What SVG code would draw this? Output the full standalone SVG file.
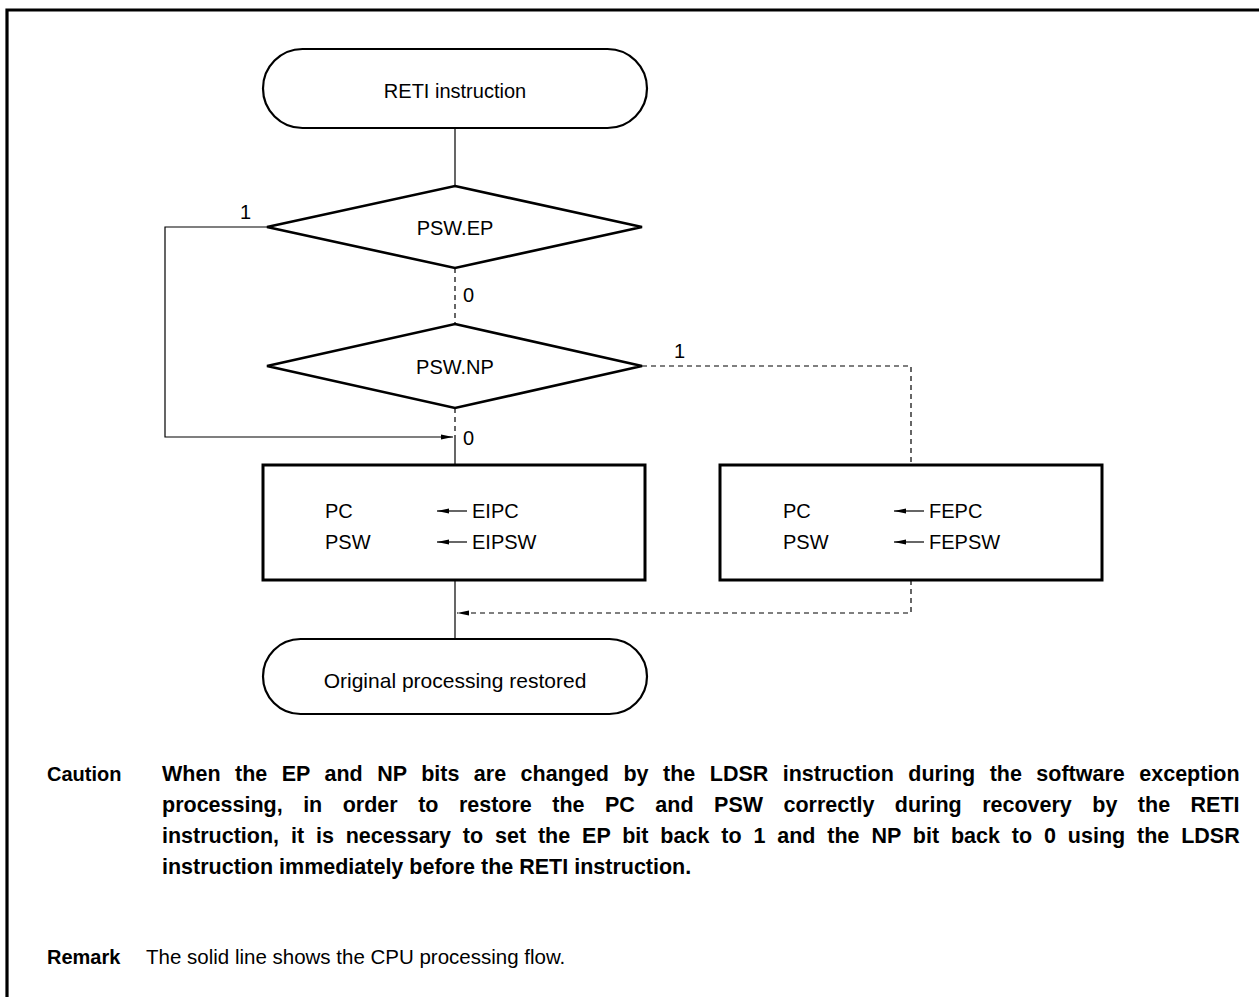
<svg xmlns="http://www.w3.org/2000/svg" width="1259" height="997" viewBox="0 0 1259 997">
<style>
text{font-family:"Liberation Sans",Arial,sans-serif;font-size:20px;fill:#000}
.b{font-weight:bold}
.c{font-weight:bold;font-size:21.5px}
.shape{fill:#fff;stroke:#000}
.term{stroke-width:2.2}
.dia{stroke-width:2.6}
.box{stroke-width:3}
.ln{fill:none;stroke:#000;stroke-width:1.2}
.dash{fill:none;stroke:#000;stroke-width:1.2;stroke-dasharray:5,4}
</style>
<defs>
<marker id="ah" viewBox="0 0 12 6" refX="12" refY="3" markerWidth="12" markerHeight="6" markerUnits="userSpaceOnUse" orient="auto">
<path d="M0,0.6 L12,3 L0,5.4 Z" fill="#000"/>
</marker>
</defs>
<path d="M7,997 V10 H1259" fill="none" stroke="#000" stroke-width="3.2"/>
<g id="connectors">
<line class="ln" x1="455" y1="128" x2="455" y2="186"/>
<line class="dash" x1="455" y1="268" x2="455" y2="324"/>
<line class="dash" x1="455" y1="408" x2="455" y2="437"/>
<line class="ln" x1="455" y1="437" x2="455" y2="465"/>
<polyline class="ln" points="267,227 165,227 165,437 453,437" marker-end="url(#ah)"/>
<polyline class="dash" points="642,366 911,366 911,465"/>
<line class="ln" x1="455" y1="580" x2="455" y2="639"/>
<polyline class="dash" points="911,580 911,613 457,613" marker-end="url(#ah)"/>
<text x="240" y="219">1</text>
<text x="463" y="302">0</text>
<text x="674" y="358">1</text>
<text x="463" y="445">0</text>
</g>
<g id="start">
<rect class="shape term" x="263" y="49" width="384" height="79" rx="39.5"/>
<text x="455" y="98" text-anchor="middle">RETI instruction</text>
</g>
<g id="psw-ep">
<polygon class="shape dia" points="455,186 642,227 455,268 267,227"/>
<text x="455" y="235" text-anchor="middle">PSW.EP</text>
</g>
<g id="psw-np">
<polygon class="shape dia" points="455,324 642,366 455,408 267,366"/>
<text x="455" y="374" text-anchor="middle">PSW.NP</text>
</g>
<g id="box-ei">
<rect class="shape box" x="263" y="465" width="382" height="115"/>
<text x="325" y="518">PC</text>
<text x="325" y="549">PSW</text>
<line class="ln" x1="467" y1="511" x2="437" y2="511" marker-end="url(#ah)"/>
<line class="ln" x1="467" y1="542" x2="437" y2="542" marker-end="url(#ah)"/>
<text x="472" y="518">EIPC</text>
<text x="472" y="549">EIPSW</text>
</g>
<g id="box-fe">
<rect class="shape box" x="720" y="465" width="382" height="115"/>
<text x="783" y="518">PC</text>
<text x="783" y="549">PSW</text>
<line class="ln" x1="924" y1="511" x2="894" y2="511" marker-end="url(#ah)"/>
<line class="ln" x1="924" y1="542" x2="894" y2="542" marker-end="url(#ah)"/>
<text x="929" y="518">FEPC</text>
<text x="929" y="549">FEPSW</text>
</g>
<g id="end">
<rect class="shape term" x="263" y="639" width="384" height="75" rx="37.5"/>
<text x="455" y="688" text-anchor="middle" style="font-size:21px">Original processing restored</text>
</g>
<g id="notes">
<text class="b" x="47" y="781">Caution</text>
<text class="c" x="162" y="781" word-spacing="8.5">When the EP and NP bits are changed by the LDSR instruction during the software exception</text>
<text class="c" x="162" y="812" word-spacing="14.5">processing, in order to restore the PC and PSW correctly during recovery by the RETI</text>
<text class="c" x="162" y="843" word-spacing="5.9">instruction, it is necessary to set the EP bit back to 1 and the NP bit back to 0 using the LDSR</text>
<text class="c" x="162" y="874">instruction immediately before the RETI instruction.</text>
<text class="b" x="47" y="964">Remark</text>
<text x="146" y="964" style="font-size:20.5px">The solid line shows the CPU processing flow.</text>
</g>
</svg>
